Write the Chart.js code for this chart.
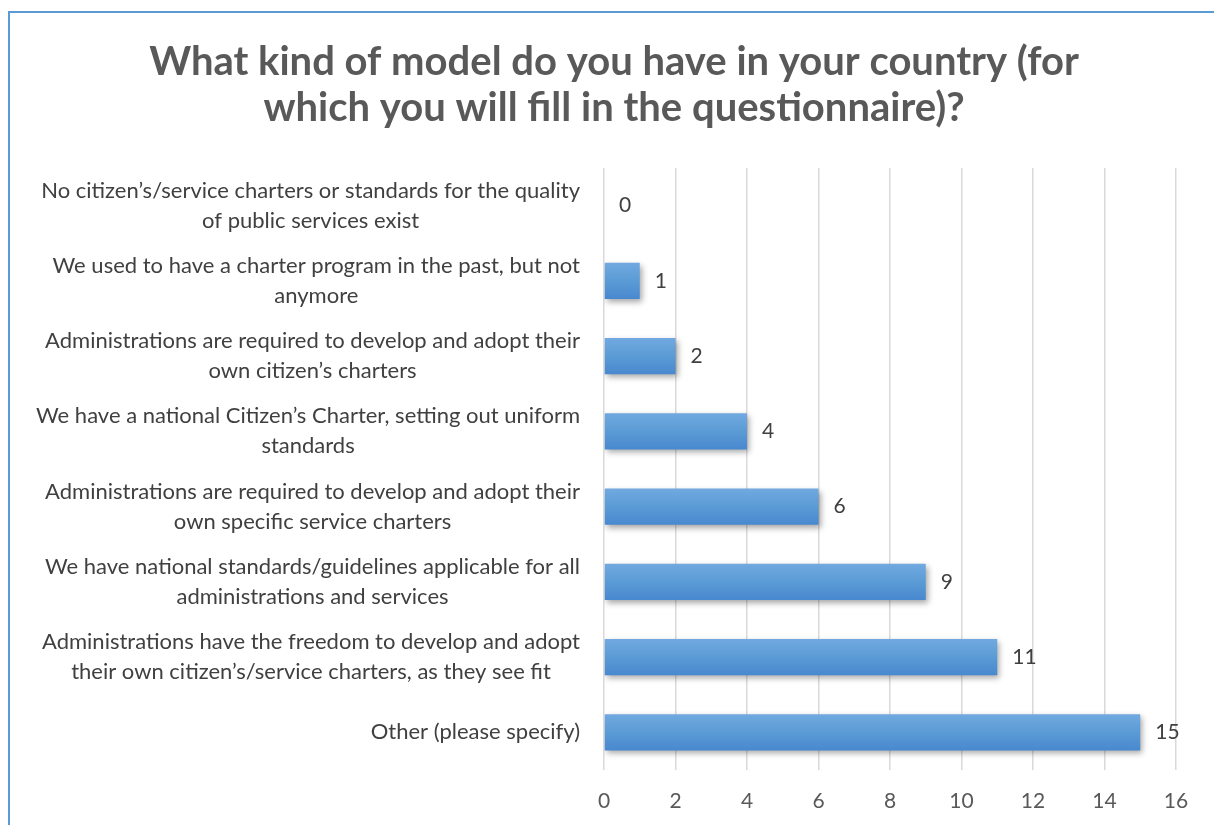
<!DOCTYPE html>
<html>
<head>
<meta charset="utf-8">
<script src="https://cdn.jsdelivr.net/npm/chart.js@4/dist/chart.umd.min.js"></script>
<style>
  html, body { margin: 0; padding: 0; background: #fff; overflow: hidden; }
  #wrap { position: relative; width: 1214px; height: 825px; }
  #chart { display: block; }
  #frame { position: absolute; left: 8px; top: 11px; width: 1300px; height: 900px;
           border-left: 2px solid #5b9bd5; border-top: 2px solid #5b9bd5; pointer-events: none; }
</style>
</head>
<body>
<div id="wrap">
  <canvas id="chart" width="1214" height="825"></canvas>
  <div id="frame"></div>
</div>
<script>
const categories = [
  ['No citizen’s/service charters or standards for the quality', 'of public services exist'],
  ['We used to have a charter program in the past, but not', 'anymore'],
  ['Administrations are required to develop and adopt their', 'own citizen’s charters'],
  ['We have a national Citizen’s Charter, setting out uniform', 'standards'],
  ['Administrations are required to develop and adopt their', 'own specific service charters'],
  ['We have national standards/guidelines applicable for all', 'administrations and services'],
  ['Administrations have the freedom to develop and adopt', 'their own citizen’s/service charters, as they see fit'],
  ['Other (please specify)']
];
const responses = [0, 1, 2, 4, 6, 9, 11, 15];
const xMin = 0, xMax = 16, xStep = 2;

const FONT = 'Lato, "Open Sans", sans-serif';
const BAR_PCT = 0.48;
const PLOT_LEFT = 604;
const PAD_LEFT = 52;

// vertical gradient for each bar, based on its band on the category scale
function barFill(c) {
  const chart = c.chart;
  const area = chart.chartArea;
  if (!area || !chart.scales.y) return '#5b9bd5';
  const band = (area.bottom - area.top) / categories.length;
  const yc = chart.scales.y.getPixelForValue(c.dataIndex);
  const h = band * BAR_PCT / 2;
  const g = chart.ctx.createLinearGradient(0, yc - h, 0, yc + h);
  g.addColorStop(0, '#71a9e0');
  g.addColorStop(0.5, '#5b9bd5');
  g.addColorStop(1, '#4888cf');
  return g;
}

const barShadow = {
  id: 'barShadow',
  beforeDatasetsDraw(chart) {
    const ctx = chart.ctx;
    ctx.save();
    ctx.shadowColor = 'rgba(0,0,0,0.35)';
    ctx.shadowBlur = 6;
    ctx.shadowOffsetX = 2;
    ctx.shadowOffsetY = 3;
  },
  afterDatasetsDraw(chart) {
    chart.ctx.restore();
  }
};

// value labels just past the end of each bar
const valueLabels = {
  id: 'valueLabels',
  afterDatasetsDraw(chart) {
    const ctx = chart.ctx;
    const meta = chart.getDatasetMeta(0);
    ctx.save();
    ctx.font = '21px ' + FONT;
    ctx.fillStyle = '#404040';
    ctx.textAlign = 'left';
    ctx.textBaseline = 'middle';
    meta.data.forEach((bar, i) => {
      ctx.fillText(String(responses[i]), bar.x + 15, bar.y);
    });
    ctx.restore();
  }
};

// category labels: block right-aligned to the axis, lines centred inside the block
const categoryLabels = {
  id: 'categoryLabels',
  afterDraw(chart) {
    const ctx = chart.ctx;
    const yScale = chart.scales.y;
    const right = chart.chartArea.left - 24;
    const lineH = 30;
    ctx.save();
    ctx.font = '22px ' + FONT;
    ctx.fillStyle = '#404040';
    ctx.textAlign = 'center';
    ctx.textBaseline = 'middle';
    categories.forEach((lines, i) => {
      const w = Math.max(...lines.map(l => ctx.measureText(l).width));
      const cx = right - w / 2;
      const yc = yScale.getPixelForValue(i);
      const y0 = yc - (lines.length - 1) * lineH / 2;
      lines.forEach((l, k) => ctx.fillText(l, cx, y0 + k * lineH));
    });
    ctx.restore();
  }
};

new Chart(document.getElementById('chart'), {
  type: 'bar',
  data: {
    labels: categories,
    datasets: [{
      data: responses,
      backgroundColor: barFill,
      borderWidth: 0,
      barPercentage: BAR_PCT,
      categoryPercentage: 1
    }]
  },
  options: {
    indexAxis: 'y',
    responsive: false,
    animation: false,
    layout: { padding: { left: PAD_LEFT, right: 38, top: 0, bottom: 11 } },
    plugins: {
      legend: { display: false },
      tooltip: { enabled: false },
      title: {
        display: true,
        text: ['What kind of model do you have in your country (for', 'which you will fill in the questionnaire)?'],
        color: '#595959',
        font: { family: FONT, size: 40, weight: 'bold', lineHeight: 1.15 },
        padding: { top: 39, bottom: 37 }
      }
    },
    scales: {
      x: {
        min: xMin,
        max: xMax,
        ticks: { stepSize: xStep, color: '#595959', font: { family: FONT, size: 21 }, padding: 19 },
        grid: { color: '#d9d9d9', lineWidth: 1.5, drawTicks: false },
        border: { display: false },
        afterFit(scale) { scale.height = 44; }
      },
      y: {
        ticks: { display: false },
        grid: { display: false },
        border: { display: false },
        afterFit(scale) { scale.width = PLOT_LEFT - PAD_LEFT; }
      }
    }
  },
  plugins: [barShadow, valueLabels, categoryLabels]
});
</script>
</body>
</html>
